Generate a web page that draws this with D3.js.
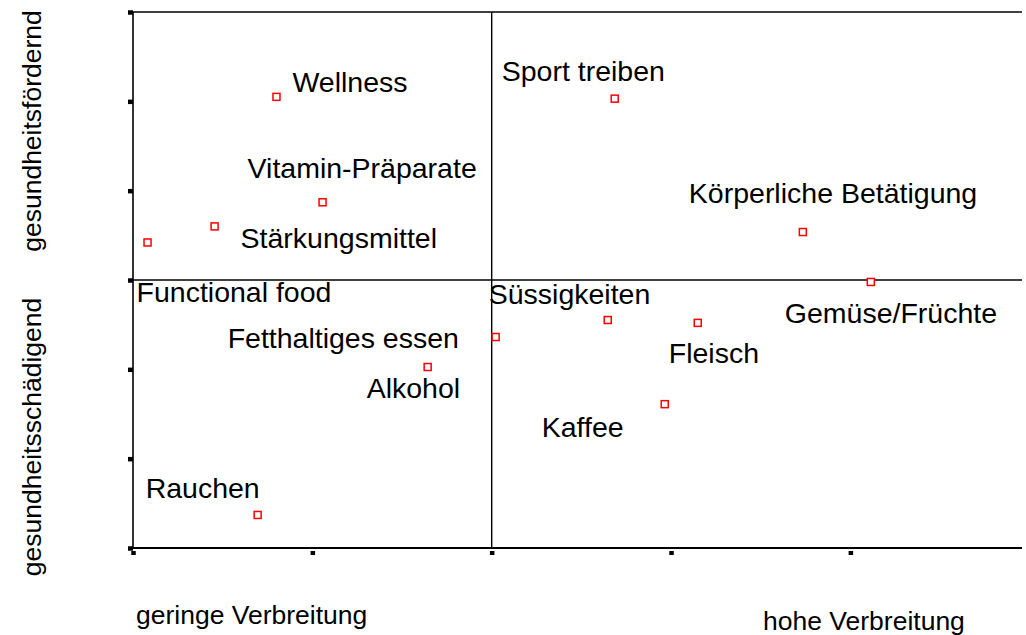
<!DOCTYPE html>
<html>
<head>
<meta charset="utf-8">
<script src="https://cdn.jsdelivr.net/npm/d3@7"></script>
<style>
  html, body { margin: 0; padding: 0; background: #fff; }
  svg { display: block; font-family: "Liberation Sans", Arial, sans-serif; }
</style>
</head>
<body>
<svg id="chart" width="1026" height="635"></svg>
<script>
// ---- data ----
const names = ["Wellness", "Sport treiben", "Vitamin-Präparate", "Stärkungsmittel",
  "Functional food", "Körperliche Betätigung", "Gemüse/Früchte", "Süssigkeiten",
  "Fleisch", "Fetthaltiges essen", "Alkohol", "Kaffee", "Rauchen"];
const xValues = [-1.20, 0.686, -0.943, -1.545, -1.919, 1.735, 2.114, 0.647, 1.149, 0.022, -0.357, 0.965, -1.305];
const yValues = [2.05, 2.03, 0.87, 0.60, 0.42, 0.537, -0.022, -0.448, -0.48, -0.638, -0.974, -1.39, -2.63];
const xTicks = [-2, -1, 0, 1, 2];
const yTicks = [-3, -2, -1, 0, 1, 2, 3];
const xAxisLabels = ["geringe Verbreitung", "hohe Verbreitung"];
const yAxisLabels = ["gesundheitsfördernd", "gesundheitsschädigend"];

// ---- label layout (pixel offsets from marker) ----
const labelDx = [16, -113, -75, 26, -11, -114, -86, -119, -29, -268, -61, -123, -112];
const labelDy = [-5, -18, -24, 22, 60, -29, 41, -16, 40, 11, 31, 33, -17];

const svg = d3.select("#chart");
const mLeft = 133, mRight = 1022, mTop = 12, mBottom = 548;

const x = d3.scaleLinear().domain([-2, 2.957]).range([mLeft, mRight]);
const y = d3.scaleLinear().domain([-3, 3]).range([mBottom, mTop]);

// crosshair lines
svg.append("line").attr("x1", x(0)).attr("x2", x(0)).attr("y1", mTop).attr("y2", mBottom)
  .attr("stroke", "#000").attr("stroke-width", 1.4);
svg.append("line").attr("x1", mLeft).attr("x2", mRight).attr("y1", y(0)).attr("y2", y(0))
  .attr("stroke", "#000").attr("stroke-width", 1.4);

// top frame line
svg.append("line").attr("x1", mLeft).attr("x2", mRight).attr("y1", mTop).attr("y2", mTop)
  .attr("stroke", "#000").attr("stroke-width", 1.4);

// axes
const xAxis = svg.append("g").attr("transform", `translate(0,${mBottom})`)
  .call(d3.axisBottom(x).tickValues(xTicks).tickSize(7).tickFormat(""));
xAxis.select(".domain").attr("d", `M${mLeft},0H${mRight}`).attr("stroke", "#000").attr("stroke-width", 2.2);
xAxis.selectAll(".tick line").attr("stroke", "#000").attr("stroke-width", 4.5).attr("y1", 3);

const yAxis = svg.append("g").attr("transform", `translate(${mLeft},0)`)
  .call(d3.axisLeft(y).tickValues(yTicks).tickSize(5).tickFormat(""));
yAxis.select(".domain").attr("d", `M0,${mTop}V${mBottom}`).attr("stroke", "#000").attr("stroke-width", 1.6);
yAxis.selectAll(".tick line").attr("stroke", "#000").attr("stroke-width", 4.5);

// points
const data = names.map((n, i) => ({ name: n, x: xValues[i], y: yValues[i], dx: labelDx[i], dy: labelDy[i] }));

svg.append("g").selectAll("rect").data(data).join("rect")
  .attr("x", d => x(d.x) - 3.5).attr("y", d => y(d.y) - 3.5)
  .attr("width", 7).attr("height", 7)
  .attr("fill", "#fff").attr("stroke", "#ff0000").attr("stroke-width", 1.5);

svg.append("g").selectAll("text").data(data).join("text")
  .attr("x", d => x(d.x) + d.dx).attr("y", d => y(d.y) + d.dy)
  .attr("font-size", 28.5).attr("fill", "#000")
  .text(d => d.name);

// axis titles
svg.append("text").attr("x", 136).attr("y", 624).attr("font-size", 26.5).text(xAxisLabels[0]);
svg.append("text").attr("x", 763).attr("y", 630).attr("font-size", 26.5).text(xAxisLabels[1]);
svg.append("text").attr("transform", "translate(41,131) rotate(-90)")
  .attr("text-anchor", "middle").attr("font-size", 26.5).text(yAxisLabels[0]);
svg.append("text").attr("transform", "translate(41,437) rotate(-90)")
  .attr("text-anchor", "middle").attr("font-size", 26.5).text(yAxisLabels[1]);
</script>
</body>
</html>
